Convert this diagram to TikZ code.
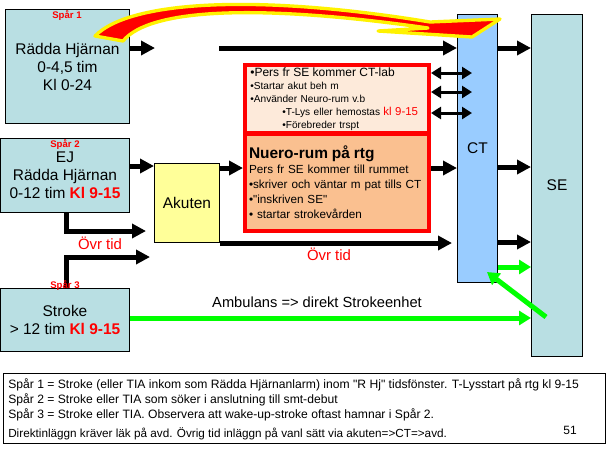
\documentclass[tikz,border=0pt]{standalone}
\usepackage{fontspec}
\setmainfont{Liberation Sans}[Ligatures=TeXOff]
\usetikzlibrary{arrows.meta}
\definecolor{sparblue}{RGB}{185,223,227}
\definecolor{ctblue}{RGB}{153,204,255}
\definecolor{akyellow}{RGB}{255,255,153}
\definecolor{peachlight}{RGB}{253,234,218}
\definecolor{peach}{RGB}{250,192,144}
\tikzset{
	sparbox/.style={draw=black, line width=0.75pt, fill=sparblue, anchor=north west,
		align=center, inner sep=0pt, font=\fontsize{11.6}{13.5}\selectfont},
	sparlbl/.style={text=red, font=\bfseries\fontsize{7.2}{8}\selectfont, anchor=north, inner sep=1pt},
	redbox/.style={draw=red, line width=3pt, anchor=north west, align=left, inner xsep=4pt, inner ysep=0pt},
	blk/.style={line width=3.75pt, -{Triangle[length=10.5pt, width=10.5pt]}},
	dbl/.style={line width=2.25pt, {Triangle[length=7.5pt, width=9pt]}-{Triangle[length=7.5pt, width=9pt]}},
	grn/.style={draw=green, line width=3.75pt, -{Triangle[length=9pt, width=10.5pt]}},
	redtxt/.style={text=red, font=\fontsize{11.2}{13}\selectfont, inner sep=0pt}
}

\begin{document}
\begin{tikzpicture}[x=0.75pt, y=-0.75pt]
	\useasboundingbox (0,0) rectangle (608,455);

	% left column
	\node[sparbox, minimum width=93pt, minimum height=85.5pt] (s1) at (5,9) {R\"adda Hj\"arnan\\0-4,5 tim\\Kl 0-24};
	\node[sparbox, minimum width=96.75pt, minimum height=55.5pt] (s2) at (0,138) {EJ\\R\"adda Hj\"arnan\\0-12 tim {\color{red}\bfseries Kl 9-15}};
	\node[sparbox, minimum width=96.75pt, minimum height=47.25pt] (s3) at (0,288) {Stroke\\> 12 tim {\color{red}\bfseries Kl 9-15}};
	\node[sparbox, fill=akyellow, minimum width=48.75pt, minimum height=59.25pt] (ak) at (154,163) {Akuten};

	% middle boxes
	\node[redbox, fill=peachlight, text width=130pt, minimum height=51pt,
		font=\fontsize{7.6}{9.8}\selectfont] (info) at (243,63)
		{{\fontsize{9}{9.8}\selectfont \textbullet Pers fr SE kommer CT-lab}\\
		\textbullet Startar akut beh m\\
		\textbullet Anv\"ander Neuro-rum v.b\\
		\hspace*{24pt}\textbullet T-Lys eller hemostas {\color{red}\fontsize{8.6}{9.8}\selectfont kl 9-15}\\
		\hspace*{24pt}\textbullet F\"orebreder trspt};
	\node[redbox, fill=peach, text width=132pt, minimum height=72.75pt, inner xsep=3pt,
		font=\fontsize{8.8}{11.25}\selectfont] (nr) at (243,132)
		{{\bfseries\fontsize{11.6}{14}\selectfont Nuero-rum p\aa{} rtg}\\
		Pers fr SE kommer till rummet\\
		\textbullet skriver och v\"antar m pat tills CT\\
		\textbullet"inskriven SE"\\
		\textbullet{} startar strokev\aa rden};

	% right columns
	\node[sparbox, fill=ctblue, minimum width=30pt, minimum height=201pt] (ct) at (457,14) {CT};
	\node[sparbox, minimum width=38.25pt, minimum height=256.5pt] (se) at (531,14) {SE};

	% notes
	\node[draw=black, line width=0.75pt, anchor=north west, minimum width=451.5pt, minimum height=52.5pt, inner sep=0pt] (notes) at (3,373) {};
	\node[anchor=north west, align=left, inner sep=0pt, font=\fontsize{9.1}{11.25}\selectfont] (notestxt) at (8,378)
		{Sp\aa r 1 = Stroke (eller TIA inkom som R\"adda Hj\"arnanlarm) inom "R Hj" tidsf\"onster. T-Lysstart p\aa{} rtg kl 9-15\\
		Sp\aa r 2 = Stroke eller TIA som s\"oker i anslutning till smt-debut\\
		Sp\aa r 3 = Stroke eller TIA. Observera att wake-up-stroke oftast hamnar i Sp\aa r 2.\\[3.5pt]
		{\fontsize{8.8}{11.25}\selectfont Direktinl\"aggn kr\"aver l\"ak p\aa{} avd. \"Ovrig tid inl\"aggn p\aa{} vanl s\"att via akuten=>CT=>avd.}};
	\node[font=\fontsize{9}{10}\selectfont, inner sep=0pt] (pagenr) at (570,430) {51};

	% coordinates
	\coordinate (s1out) at (155,48);
	\coordinate (s1in) at (219,48);
	\coordinate (ovr1) at (150,231);
	\coordinate (ovr2) at (150,257);
	\coordinate (ctin) at (472,0);
	\coordinate (gstart) at (546,317);
	\coordinate (gend) at (487,272);

	% black arrows
	\draw[blk] (s1.east |- s1out) -- (s1out);
	\draw[blk] (s1in) -- (ct.west |- s1in);
	\draw[blk] (ct.east |- s1in) -- (se.west |- s1in);
	\foreach \y in {73,92,113}
		\draw[dbl] (info.east |- 0,\y) -- (ctin |- 0,\y);
	\draw[blk] (s2.east |- 0,166) -- (ak.west |- 0,166);
	\draw[blk] (ak.east |- 0,168) -- (nr.west |- 0,168);
	\draw[blk] (nr.east |- 0,168) -- (ct.west |- 0,168);
	\draw[blk] (ct.east |- 0,167) -- (se.west |- 0,167);
	\draw[blk, shorten >=3.75pt] (ak.south east) -- (ct.west |- ak.south east);
	\draw[blk] (ct.east |- 0,242) -- (se.west |- 0,242);
	\draw[blk, shorten >=3pt] (s2.south -| 66,0) |- (ovr1);
	\draw[blk] (s3.north -| 66,0) |- (ovr2);

	% green arrows
	\draw[grn] (s3.east |- 0,318) -- (se.west |- 0,318);
	\draw[grn] (ct.east |- 0,267) -- (se.west |- 0,267);
	\draw[grn] (gstart) -- (gend);

	% labels
	\node[sparlbl] (spar1) at (67,9) {Sp\aa r 1};
	\node[sparlbl] (spar2) at (65,138) {Sp\aa r 2};
	\node[sparlbl] (spar3) at (65,279) {Sp\aa r 3};
	\node[redtxt] (ovrA) at (100,243) {\"Ovr tid};
	\node[redtxt] (ovrB) at (329,254) {\"Ovr tid};
	\node[font=\fontsize{11}{13}\selectfont, inner sep=0pt] (amb) at (317,302) {Ambulans => direkt Strokeenhet};

	% big curved arrow
	\filldraw[fill=red, draw=yellow, line width=2.5pt, line join=round]
		(95,36) .. controls (130,0) and (260,-6) .. (430,22) -- (500,19) -- (472,37) -- (378,31)
		-- (428,28) .. controls (260,4) and (150,8) .. (123,41) -- cycle;
\end{tikzpicture}
\end{document}
